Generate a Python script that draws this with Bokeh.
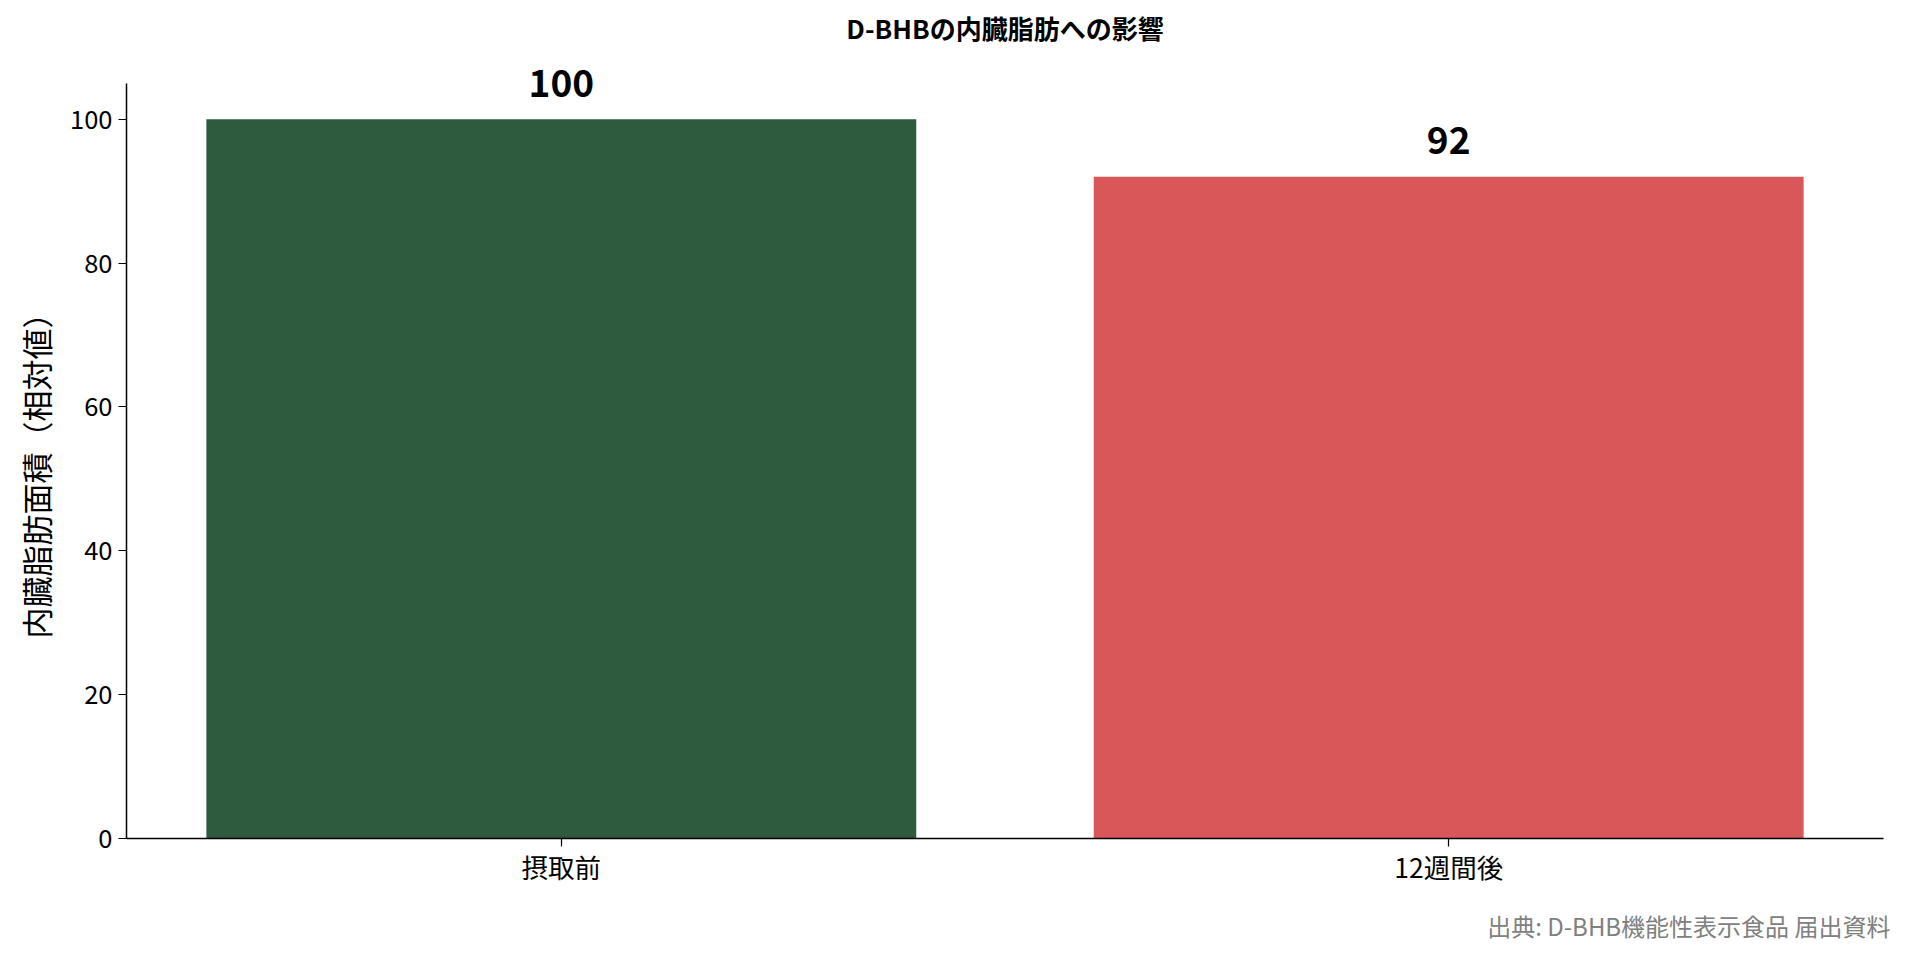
from bokeh.plotting import figure
from bokeh.models import ColumnDataSource, Range1d, FixedTicker, Title
from bokeh.core.properties import value
from bokeh.embed import file_html
from bokeh.resources import INLINE

categories = ["摂取前", "12週間後"]
values = [100, 92]
bar_labels = ["100", "92"]
colors = ["#2E5B3E", "#D95758"]
y_ticks = [0, 20, 40, 60, 80, 100]

title_text = "D-BHBの内臓脂肪への影響"
y_label = "内臓脂肪面積（相対値）"
source_text = "出典: D-BHB機能性表示食品 届出資料"

FONT = "Noto Sans CJK JP"

xs = list(range(len(categories)))
src = ColumnDataSource(dict(x=xs, top=values, color=colors, label=bar_labels))

x_min, x_max = -0.49, len(categories) - 1 + 0.49
y_axis_min, y_axis_max = 0, 105
y_view_max = 116.5  # headroom above the axis for the value labels and the title

p = figure(width=1900, height=959, output_backend="svg", toolbar_location=None,
           x_range=Range1d(x_min, x_max), y_range=Range1d(y_axis_min, y_view_max),
           min_border_left=126, min_border_right=17, min_border_top=0, min_border_bottom=113)

p.vbar(x="x", top="top", bottom=0, width=0.8, color="color", line_color=None, source=src)

p.text(x="x", y="top", text="label", source=src, text_align="center",
       text_baseline="alphabetic", y_offset=-36, text_font=value(FONT),
       text_font_size="37px", text_font_style="bold", text_color="#000000")

# chart title, centred over the plot area near the top edge
p.text(x=[(x_min + x_max) / 2], y=[y_view_max], text=[title_text], y_offset=27,
       text_align="center", text_baseline="middle", text_font=value(FONT),
       text_font_size="26px", text_font_style="bold", text_color="#000000")

p.xgrid.visible = False
p.ygrid.visible = False
p.outline_line_color = None

p.xaxis.ticker = FixedTicker(ticks=xs)
p.xaxis.major_label_overrides = {i: c for i, c in zip(xs, categories)}
p.yaxis.ticker = FixedTicker(ticks=y_ticks)
p.yaxis.bounds = (y_axis_min, y_axis_max)

for ax in (p.xaxis[0], p.yaxis[0]):
    ax.axis_line_color = "#000000"
    ax.axis_line_width = 1.5
    ax.major_tick_line_color = "#000000"
    ax.major_tick_line_width = 1.2
    ax.major_tick_in = 0
    ax.major_tick_out = 8
    ax.minor_tick_line_color = None
    ax.major_label_text_font = FONT
    ax.major_label_text_color = "#000000"

p.xaxis.major_label_text_font_size = "26.5px"
p.xaxis.major_label_standoff = 0
p.yaxis.major_label_text_font_size = "25.5px"
p.yaxis.major_label_standoff = 6

# y-axis title, placed along the axis line (0-105) rather than the full frame
p.add_layout(Title(text=y_label, align="left", offset=200, text_font=FONT,
                   text_font_size="31px", text_font_style="normal",
                   text_color="#000000", standoff=20), "left")

p.add_layout(Title(text=source_text, align="right", text_font=FONT,
                   text_font_size="24px", text_font_style="normal",
                   text_color="#808080", standoff=34, offset=-7), "below")

open("out.html", "w").write(file_html(p, INLINE))
